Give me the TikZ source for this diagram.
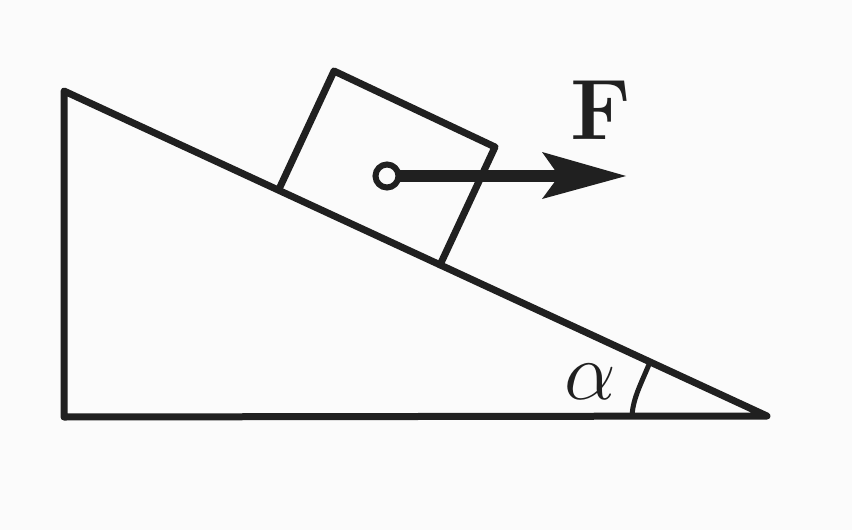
\documentclass[tikz,border=0pt]{standalone}
\definecolor{bgc}{RGB}{251,251,251}
\definecolor{ink}{RGB}{32,32,32}
\tikzset{
  line/.style={draw=ink,line width=7pt,line cap=round,line join=round},
  thin line/.style={draw=ink,line width=5pt},
  lab/.style={text=ink,inner sep=0pt}
}
\begin{document}
\begin{tikzpicture}[x=1pt,y=-1pt]
\useasboundingbox (0,0) rectangle (852,530);
\fill[bgc] (0,0) rectangle (852,530);
\coordinate (A) at (64,91);
\coordinate (B) at (64,417);
\coordinate (C) at (767,416);
\coordinate (P) at (280,187);
\coordinate (Q) at (334,71);
\coordinate (R) at (495,147);
\coordinate (S) at (440,265);
\coordinate (O) at (387,176);
\coordinate (T) at (626,176);
\draw[line] (A) -- (B) -- (C) -- cycle;
\draw[line] (P) -- (Q) -- (R) -- (S);
\draw[ink,line width=12pt] (O) -- (562,176);
\fill[ink] (T) -- (542,152) -- (559,176) -- (542,199) -- cycle;
\node[circle,draw=ink,line width=6pt,fill=bgc,minimum size=23pt,inner sep=0pt] (ring) at (O) {};
\draw[thin line] (650,362) .. controls (641,384) and (633,398) .. (632,416);
\node[lab,scale=3.3] (alpha) at (590,382) {\Huge $\alpha$};
\node[lab,scale=3.45] (F) at (601,110) {\Huge\bfseries F};
\end{tikzpicture}
\end{document}
